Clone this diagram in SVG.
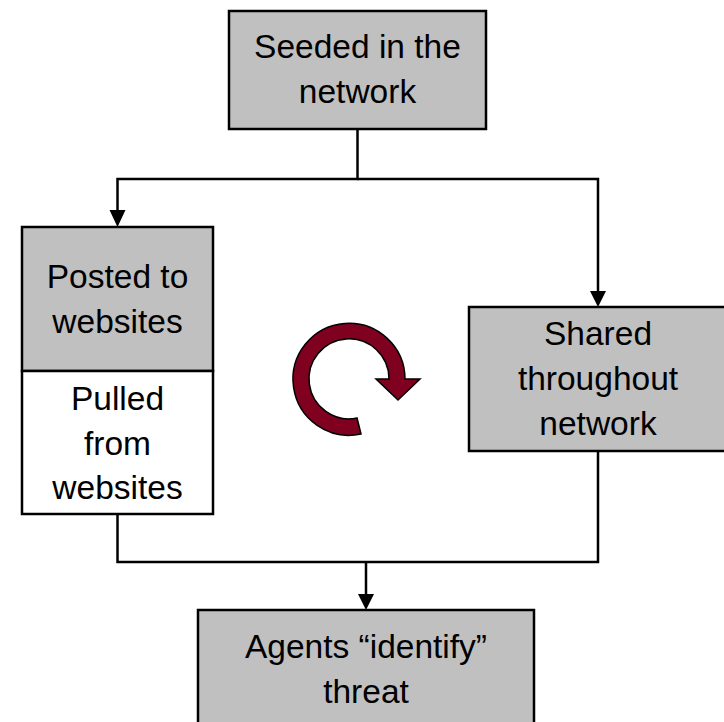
<svg xmlns="http://www.w3.org/2000/svg" width="724" height="722" viewBox="0 0 724 722">
<style>
.box{fill:#C0C0C0;stroke:#000;stroke-width:2.5}
.wbox{fill:#FFFFFF;stroke:#000;stroke-width:2.5}
.lbl{font-family:"Liberation Sans",Arial,sans-serif;font-size:33.5px;fill:#000;text-anchor:middle}
.conn{fill:none;stroke:#000;stroke-width:2.5}
.head{fill:#000}
</style>
<rect width="724" height="722" fill="#FFFFFF"/>
<g id="connectors">
<path class="conn" d="M357.5 129 V179 H117.5 V211"/>
<polygon class="head" points="109.5,210 125.5,210 117.5,227"/>
<path class="conn" d="M357.5 179 H598 V292"/>
<polygon class="head" points="590,291 606,291 598,307"/>
<path class="conn" d="M117.5 514 V562 H598 V451"/>
<path class="conn" d="M366 562 V595"/>
<polygon class="head" points="358,594 374,594 366,610"/>
</g>
<g id="seeded">
<rect class="box" x="229" y="11" width="257" height="118"/>
<text class="lbl" x="357.5" y="58">Seeded in the</text>
<text class="lbl" x="357.5" y="103">network</text>
</g>
<g id="posted">
<rect class="box" x="22" y="227" width="191" height="144"/>
<text class="lbl" x="117.5" y="288">Posted to</text>
<text class="lbl" x="117.5" y="333">websites</text>
</g>
<g id="pulled">
<rect class="wbox" x="22" y="371" width="191" height="143"/>
<text class="lbl" x="117.5" y="410">Pulled</text>
<text class="lbl" x="117.5" y="455">from</text>
<text class="lbl" x="117.5" y="499">websites</text>
</g>
<g id="shared">
<rect class="box" x="469" y="307" width="270" height="144"/>
<text class="lbl" x="598" y="345">Shared</text>
<text class="lbl" x="598" y="390">throughout</text>
<text class="lbl" x="598" y="435">network</text>
</g>
<g id="agents">
<rect class="box" x="198" y="610" width="336" height="130"/>
<text class="lbl" x="366" y="658">Agents “identify”</text>
<text class="lbl" x="366" y="703">threat</text>
</g>
<g id="cycle">
<path d="M405 379 A56 56 0 1 0 361 434 L357 418 A40 40 0 1 1 389 379 L376 379 L398 400 L420 379 Z" fill="#800020" stroke="#000" stroke-width="1.5" stroke-linejoin="miter"/>
</g>
</svg>
